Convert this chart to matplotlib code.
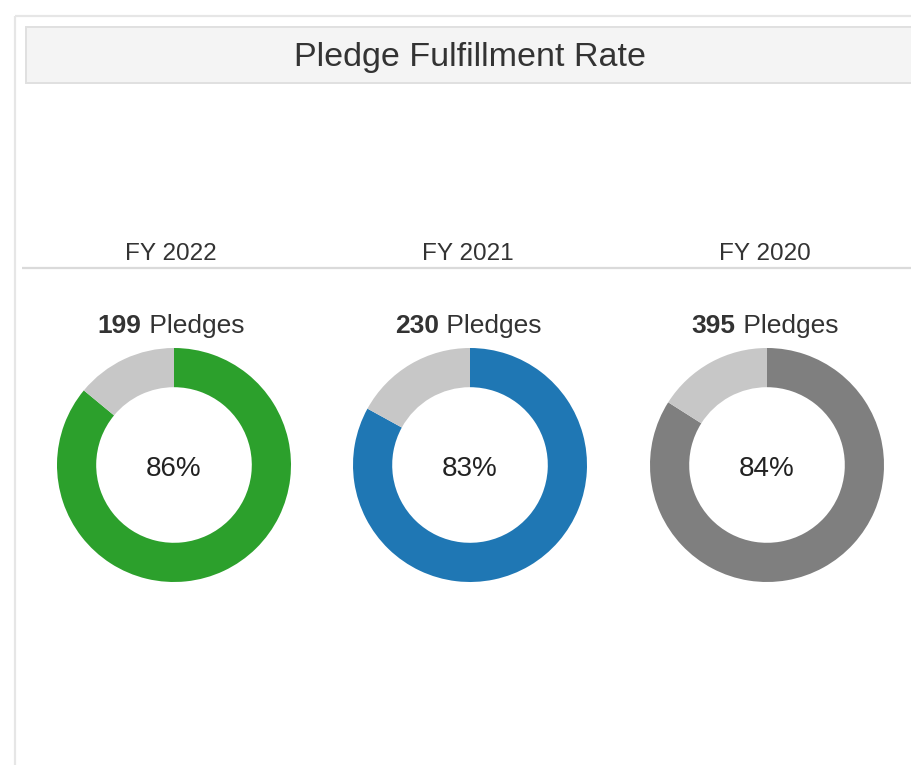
import matplotlib
matplotlib.use("Agg")
import matplotlib.pyplot as plt
from matplotlib.patches import Rectangle

# data
years = ["FY 2022", "FY 2021", "FY 2020"]
pledges = [199, 230, 395]
rates = [86, 83, 84]

ring_colors = ["#2ca02c", "#1f77b4", "#7f7f7f"]
rest_color = "#c7c7c7"
text_color = "#333333"

plt.rcParams['font.family'] = ['Liberation Sans', 'DejaVu Sans']

W, H = 912, 765
fig = plt.figure(figsize=(W / 100, H / 100), dpi=100)
ax = fig.add_axes([0, 0, 1, 1])
ax.set_xlim(0, W)
ax.set_ylim(H, 0)
ax.axis("off")

# outer frame (top + left edges only visible)
ax.plot([15, W], [16, 16], color="#e6e6e6", lw=1.6, solid_capstyle="butt")
ax.plot([15, 15], [16, H], color="#e6e6e6", lw=1.6, solid_capstyle="butt")

# title bar
ax.add_patch(Rectangle((26, 27), W, 56, facecolor="#f4f4f4",
                       edgecolor="#e0e0e0", lw=1.4))
ax.text(470, 57, "Pledge Fulfillment Rate", ha="center", va="center",
        fontsize=24.5, color=text_color)

# column header separator
ax.plot([22, W], [268, 268], color="#dadada", lw=1.6, solid_capstyle="butt")

col_x = [171, 468, 765]
ring_x = [174, 470, 767]
ring_y = 465
r_px = 117

fig.canvas.draw()
renderer = fig.canvas.get_renderer()

for i, yr in enumerate(years):
    cx = col_x[i]
    ax.text(cx, 254, yr, ha="center", va="center", fontsize=17.5,
            color=text_color)

    # "NNN Pledges" with bold number, centred as one line
    t1 = ax.text(0, 326, str(pledges[i]), ha="left", va="center",
                 fontsize=19, fontweight="bold", color=text_color)
    t2 = ax.text(0, 326, " Pledges", ha="left", va="center",
                 fontsize=19, color=text_color)
    w1 = t1.get_window_extent(renderer).width
    w2 = t2.get_window_extent(renderer).width
    x0 = cx - (w1 + w2) / 2
    t1.set_x(x0)
    t2.set_x(x0 + w1)

    # donut
    rx = ring_x[i]
    pax = fig.add_axes([(rx - r_px) / W, (H - ring_y - r_px) / H,
                        2 * r_px / W, 2 * r_px / H])
    pax.pie([rates[i], 100 - rates[i]], colors=[ring_colors[i], rest_color],
            startangle=90, counterclock=False, radius=1,
            wedgeprops=dict(width=0.335, linewidth=0))
    pax.set_xlim(-1, 1)
    pax.set_ylim(-1, 1)
    pax.axis("off")
    pax.text(0, -0.03, f"{rates[i]}%", ha="center", va="center",
             fontsize=20, color="#222222")

fig.savefig("out.png", dpi=100)
